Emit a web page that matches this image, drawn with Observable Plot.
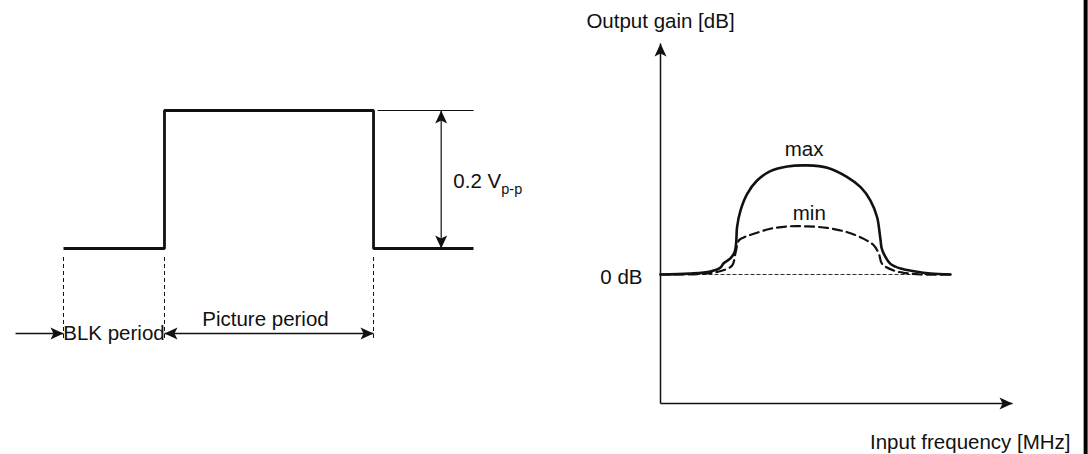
<!DOCTYPE html>
<html>
<head>
<meta charset="utf-8">
<script src="https://cdn.jsdelivr.net/npm/d3@7"></script>
<script src="https://cdn.jsdelivr.net/npm/@observablehq/plot@0.6"></script>
<style>
  html, body { margin: 0; padding: 0; background: #fff; }
  #row { display: flex; width: 1088px; height: 454px; }
</style>
</head>
<body>
<div id="row"></div>
<script>
// ---- Left panel: input pulse (time in BLK-period units, level in volts)
const pulseTime  = [0, 1, 1, 3.07, 3.07, 4.06];
const pulseLevel = [0, 0, 0.2, 0.2, 0, 0];
const periodEdges = [0, 1, 3.07];
const periodLabels = ["BLK period", "Picture period"];
const amplitudeText = "0.2 V";
const amplitudeSub = "p-p";

// ---- Right panel: frequency response (arbitrary frequency units, gain in dB)
const maxFreq = [0, 1.0, 1.72, 2.07, 2.17, 2.41, 2.55, 2.6, 2.62, 2.64, 2.76, 2.99, 3.33, 3.79, 4.37, 5.06,
                 5.75, 6.44, 6.9, 7.24, 7.47, 7.56, 7.59, 7.62, 7.7, 7.93, 8.28, 8.79, 9.31, 10];
const maxGain = [0, 0.05, 0.17, 0.39, 0.61, 0.9, 1.22, 1.6, 2.06, 2.63, 3.56, 4.48, 5.22, 5.74, 6.0, 6.06,
                 5.93, 5.41, 4.85, 4.11, 3.18, 2.26, 1.89, 1.5, 1.15, 0.59, 0.33, 0.17, 0.06, 0];
const minFreq = [0, 1.38, 1.83, 2.14, 2.47, 2.59, 2.7, 2.87, 3.22, 3.79, 4.37, 5.06, 5.75, 6.44, 7.01,
                 7.36, 7.53, 7.64, 8.04, 8.45, 8.97, 10];
const minGain = [0, 0.03, 0.11, 0.22, 0.5, 1.22, 1.89, 2.06, 2.26, 2.54, 2.67, 2.67, 2.59, 2.35, 1.98,
                 1.61, 1.15, 0.59, 0.22, 0.08, 0, 0];
const curveNames = ["max", "min"];
const yTitle = "Output gain [dB]";
const xTitle = "Input frequency [MHz]";
const refLabel = "0 dB";

const font = "'Liberation Sans', Arial, Helvetica, sans-serif";
const fs = 20.5;

// filled, notched arrowhead pointing up with its tip at the origin
const arrowHead = {
  draw(ctx) {
    ctx.moveTo(0, 0);
    ctx.lineTo(6, 13);
    ctx.lineTo(0, 10);
    ctx.lineTo(-6, 13);
    ctx.closePath();
  }
};

const pulse = pulseTime.map((t, i) => ({t, v: pulseLevel[i]}));
const arrowY = -0.1232;

const left = Plot.plot({
  width: 544, height: 454,
  margin: 0,
  style: {fontFamily: font, background: "white", overflow: "visible", color: "#111"},
  x: {domain: [0, 4.06], range: [63, 473], axis: null},
  y: {domain: [0, 0.2], range: [248, 110], axis: null},
  marks: [
    Plot.line(pulse, {x: "t", y: "v", strokeWidth: 2.8, strokeLinejoin: "miter", strokeLinecap: "butt"}),
    Plot.link([{x1: 3.11, x2: 4.06, y: 0.2}], {x1: "x1", x2: "x2", y1: "y", y2: "y", strokeWidth: 1.2}),
    Plot.link([{x: 3.74, y1: 0, y2: 0.2}], {x1: "x", x2: "x", y1: "y1", y2: "y2", strokeWidth: 1.2}),
    Plot.dot([{x: 3.74, y: 0.2, r: 0}, {x: 3.74, y: 0, r: 180}],
      {x: "x", y: "y", rotate: "r", symbol: arrowHead, fill: "#111", stroke: "none"}),
    Plot.ruleX(periodEdges, {y1: -0.013, y2: -0.1304, strokeDasharray: "4,3", strokeWidth: 1}),
    Plot.link([{x1: -0.475, x2: 0}, {x1: 1, x2: 3.07}],
      {x1: "x1", x2: "x2", y1: arrowY, y2: arrowY, strokeWidth: 1.3}),
    Plot.dot([{x: 0, r: 90}, {x: 1, r: 270}, {x: 3.07, r: 90}],
      {x: "x", y: arrowY, rotate: "r", symbol: arrowHead, fill: "#111", stroke: "none"}),
    Plot.text([periodLabels[0]], {x: 0.5, y: -0.1333, text: d => d, lineAnchor: "bottom", fontSize: fs}),
    Plot.text([periodLabels[1]], {x: 2.0, y: -0.1116, text: d => d, lineAnchor: "bottom", fontSize: fs}),
    Plot.text([amplitudeText], {x: 3.86, y: 0.0884, text: d => d, textAnchor: "start", lineAnchor: "bottom", fontSize: fs}),
    Plot.text([amplitudeSub], {x: 3.86, y: 0.0884, dx: 48, dy: 6, text: d => d, textAnchor: "start", lineAnchor: "bottom", fontSize: 14.5})
  ]
});

const maxData = maxFreq.map((f, i) => ({f, g: maxGain[i]}));
const minData = minFreq.map((f, i) => ({f, g: minGain[i]}));
const axisBottom = -7.17, axisTop = 12.83, axisRight = 12.14;

const right = Plot.plot({
  width: 544, height: 454,
  margin: 0,
  style: {fontFamily: font, background: "white", overflow: "visible", color: "#111"},
  x: {domain: [0, 10], range: [116, 406], axis: null},
  y: {domain: [0, 6], range: [274, 166], axis: null},
  marks: [
    Plot.link([{x1: 0, y1: axisBottom, x2: axisRight, y2: axisBottom}, {x1: 0, y1: axisBottom, x2: 0, y2: axisTop}],
      {x1: "x1", y1: "y1", x2: "x2", y2: "y2", strokeWidth: 1.5}),
    Plot.dot([{x: axisRight, y: axisBottom, r: 90}, {x: 0, y: axisTop, r: 0}],
      {x: "x", y: "y", rotate: "r", symbol: arrowHead, fill: "#111", stroke: "none"}),
    Plot.link([{x1: 0, x2: 10}], {x1: "x1", x2: "x2", y1: 0, y2: 0, strokeWidth: 1.1, strokeDasharray: "4,2", stroke: "#333"}),
    Plot.line(minData, {x: "f", y: "g", curve: "catmull-rom", strokeWidth: 2.2, strokeDasharray: "9,5"}),
    Plot.line(maxData, {x: "f", y: "g", curve: "catmull-rom", strokeWidth: 2.6}),
    Plot.text([curveNames[0]], {x: 4.95, y: 6.61, text: d => d, lineAnchor: "bottom", fontSize: fs}),
    Plot.text([curveNames[1]], {x: 5.13, y: 3.05, text: d => d, lineAnchor: "bottom", fontSize: fs}),
    Plot.text([yTitle], {x: 0, y: 13.67, text: d => d, lineAnchor: "bottom", fontSize: fs}),
    Plot.text([xTitle], {x: 14.14, y: -9.72, text: d => d, textAnchor: "end", lineAnchor: "bottom", fontSize: fs}),
    Plot.text([refLabel], {x: 0, y: -0.5, dx: -18, text: d => d, textAnchor: "end", lineAnchor: "bottom", fontSize: fs}),
    Plot.ruleX([14.66], {strokeWidth: 4, stroke: "#000"})
  ]
});

document.getElementById("row").append(left, right);
</script>
</body>
</html>
